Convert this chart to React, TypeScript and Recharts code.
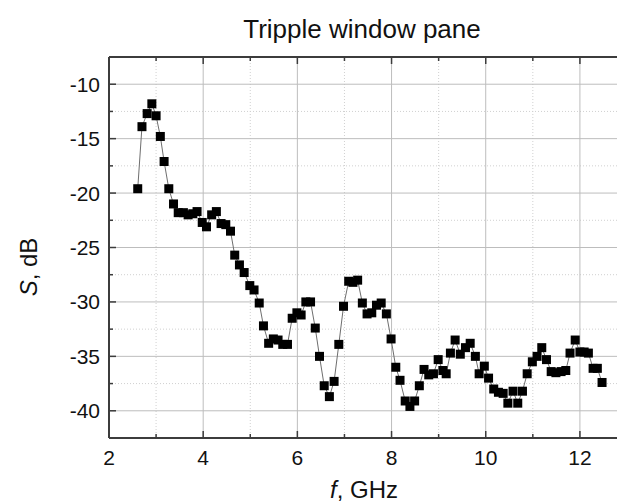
import { LineChart, Line, XAxis, YAxis, CartesianGrid } from "recharts";

const freqGHz = [
  2.61, 2.7, 2.81, 2.91, 3.0, 3.09, 3.17, 3.27, 3.37, 3.47,
  3.58, 3.68, 3.78, 3.87, 3.98, 4.07, 4.18, 4.28, 4.38, 4.48,
  4.58, 4.67, 4.77, 4.87, 4.99, 5.08, 5.19, 5.28, 5.39, 5.49,
  5.59, 5.69, 5.79, 5.89, 5.99, 6.08, 6.18, 6.28, 6.38, 6.47,
  6.57, 6.68, 6.78, 6.88, 6.98, 7.09, 7.18, 7.28, 7.38, 7.48,
  7.58, 7.68, 7.78, 7.89, 7.99, 8.09, 8.18, 8.29, 8.39, 8.49,
  8.59, 8.69, 8.79, 8.89, 8.99, 9.09, 9.16, 9.25, 9.35, 9.46,
  9.57, 9.67, 9.78, 9.86, 9.97, 10.06, 10.17, 10.27, 10.37, 10.47,
  10.58, 10.68, 10.78, 10.88, 10.99, 11.09, 11.19, 11.29, 11.39, 11.49,
  11.6, 11.7, 11.79, 11.9, 12.0, 12.09, 12.18, 12.28, 12.37, 12.47,
];

const sDb = [
  -19.6, -13.9, -12.7, -11.8, -12.9, -14.8, -17.1, -19.6, -21.0, -21.8,
  -21.8, -22.0, -21.9, -21.7, -22.7, -23.1, -22.0, -21.7, -22.8, -22.9,
  -23.5, -25.7, -26.6, -27.3, -28.5, -28.9, -30.1, -32.2, -33.8, -33.4,
  -33.5, -33.9, -33.9, -31.5, -31.0, -31.2, -30.0, -30.0, -32.4, -35.0,
  -37.7, -38.7, -37.3, -33.9, -30.4, -28.1, -28.2, -28.0, -30.1, -31.1,
  -31.0, -30.3, -30.1, -31.1, -33.4, -36.0, -37.2, -39.1, -39.6, -39.1,
  -37.7, -36.2, -36.7, -36.6, -35.3, -36.3, -36.6, -34.7, -33.5, -34.8,
  -34.2, -33.8, -35.0, -36.6, -35.9, -37.0, -38.0, -38.3, -38.4, -39.3,
  -38.2, -39.3, -38.2, -36.6, -35.5, -35.0, -34.2, -35.3, -36.4, -36.5,
  -36.4, -36.3, -34.7, -33.5, -34.6, -34.6, -34.7, -36.1, -36.1, -37.4,
];

const xMajor = [2, 4, 6, 8, 10, 12];
const xMinor = [3, 5, 7, 9, 11];
const yMajor = [-40, -35, -30, -25, -20, -15, -10];
const yMinor = [-37.5, -32.5, -27.5, -22.5, -17.5, -12.5];

const data = freqGHz.map((f, i) => ({ f, s: sDb[i] }));
const xTicks = [...xMajor, ...xMinor].sort((a, b) => a - b);
const yTicks = [...yMajor, ...yMinor].sort((a, b) => a - b);

const FONT = '"Liberation Sans", Arial, Helvetica, sans-serif';
const AXIS = "#3c3c3c";

function BottomTick(props: any) {
  const { x, y, payload } = props;
  const major = xMajor.includes(payload.value);
  return (
    <g>
      <line x1={x} y1={y} x2={x} y2={y - (major ? 7 : 4)} stroke={AXIS} strokeWidth={1.5} />
      {major && (
        <text x={x} y={y + 12} dy="0.71em" textAnchor="middle" fontSize={21} fontFamily={FONT} fill="#111">
          {payload.value}
        </text>
      )}
    </g>
  );
}

function TopTick(props: any) {
  const { x, y, payload } = props;
  const major = xMajor.includes(payload.value);
  return <line x1={x} y1={y} x2={x} y2={y + (major ? 7 : 4)} stroke={AXIS} strokeWidth={1.5} />;
}

function LeftTick(props: any) {
  const { x, y, payload } = props;
  const major = yMajor.includes(payload.value);
  return (
    <g>
      <line x1={x} y1={y} x2={x + (major ? 7 : 4)} y2={y} stroke={AXIS} strokeWidth={1.5} />
      {major && (
        <text x={x - 9} y={y} dy="0.36em" textAnchor="end" fontSize={21} fontFamily={FONT} fill="#111">
          {payload.value}
        </text>
      )}
    </g>
  );
}

function SquareDot(props: any) {
  const { cx, cy, index } = props;
  if (cx == null || cy == null) return null;
  return <rect key={index} x={cx - 4.5} y={cy - 4.5} width={9} height={9} fill="#000" />;
}

export default function App() {
  return (
    <div style={{ position: "absolute", left: 0, top: 0, width: 617, height: 504, overflow: "hidden", background: "#fff" }}>
      <LineChart width={625} height={504} data={data} margin={{ top: 0, right: 6, bottom: 0, left: 0 }}>
        <CartesianGrid horizontalValues={yMinor} verticalValues={xMinor} stroke="#d0d0d0" strokeDasharray="1 2" />
        <CartesianGrid horizontalValues={yMajor} verticalValues={xMajor} stroke="#bdbdbd" />
        <XAxis
          dataKey="f"
          type="number"
          domain={[2, 12.83]}
          ticks={xTicks}
          interval={0}
          height={66}
          tickSize={0}
          tickMargin={0}
          tickLine={false}
          tick={<BottomTick />}
          axisLine={{ stroke: AXIS, strokeWidth: 2 }}
        />
        <XAxis
          xAxisId="top"
          orientation="top"
          dataKey="f"
          type="number"
          domain={[2, 12.83]}
          ticks={xTicks}
          interval={0}
          height={57}
          tickSize={0}
          tickMargin={0}
          tickLine={false}
          tick={<TopTick />}
          axisLine={{ stroke: AXIS, strokeWidth: 2 }}
        />
        <YAxis
          type="number"
          domain={[-42.5, -7.5]}
          ticks={yTicks}
          interval={0}
          width={109}
          tickSize={0}
          tickMargin={0}
          tickLine={false}
          tick={<LeftTick />}
          axisLine={{ stroke: AXIS, strokeWidth: 2 }}
        />
        <Line
          dataKey="s"
          type="linear"
          stroke="#6e6e6e"
          strokeWidth={1}
          dot={<SquareDot />}
          activeDot={false}
          isAnimationActive={false}
        />
      </LineChart>
      <svg width={617} height={504} style={{ position: "absolute", left: 0, top: 0, pointerEvents: "none" }}>
        <text x={362} y={38} textAnchor="middle" fontSize={26} fontFamily={FONT} fill="#111">
          Tripple window pane
        </text>
        <text x={364} y={498} textAnchor="middle" fontSize={24} fontFamily={FONT} fill="#111">
          <tspan fontStyle="italic">f</tspan>, GHz
        </text>
        <text transform="translate(37,267) rotate(-90)" textAnchor="middle" fontSize={24} fontFamily={FONT} fill="#111">
          <tspan fontStyle="italic">S</tspan>, dB
        </text>
      </svg>
    </div>
  );
}
